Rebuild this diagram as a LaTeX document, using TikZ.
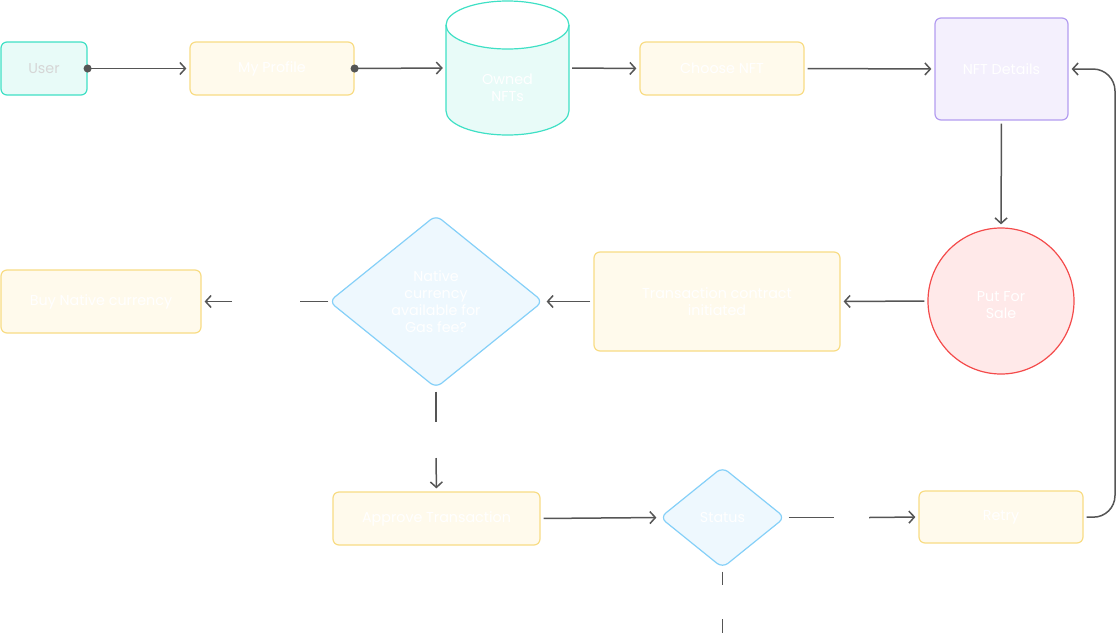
\documentclass[tikz,border=0pt]{standalone}
\usepackage{fontspec}
\setmainfont{Poppins}
\usetikzlibrary{arrows.meta,shapes.geometric}
\definecolor{lineC}{HTML}{555555}
\definecolor{cyanF}{HTML}{E8FBF8}
\definecolor{cyanD}{HTML}{3FE0C5}
\definecolor{yelF}{HTML}{FFFAEC}
\definecolor{yelD}{HTML}{F8DC84}
\definecolor{purF}{HTML}{F4F0FD}
\definecolor{purD}{HTML}{B39CF0}
\definecolor{redF}{HTML}{FFE9E9}
\definecolor{redD}{HTML}{F44B4B}
\definecolor{bluF}{HTML}{EEF8FE}
\definecolor{bluD}{HTML}{85D0F8}
\definecolor{userT}{HTML}{D6D6D6}
\tikzset{
  txt/.style={font=\fontsize{14.3}{17}\selectfont, text=white, align=center},
  box/.style={draw, line width=1.2pt, rounded corners=6pt, txt, inner sep=0pt},
  yelbox/.style={box, fill=yelF, draw=yelD},
  dia/.style={diamond, draw=bluD, fill=bluF, line width=1.2pt, rounded corners=7pt,
    txt, inner sep=0pt},
  arr/.style={draw=lineC, line width=1.5pt, -{Straight Barb[length=5.5pt,width=12pt,line width=1.5pt]}, shorten >=3pt},
  ln/.style={draw=lineC, line width=1.5pt},
  dotarr/.style={draw=lineC, line width=1.5pt, {Circle[length=8pt,width=8pt]}-{Straight Barb[length=5.5pt,width=12pt,line width=1.5pt]}, shorten >=3pt, shorten <=-4pt},
}
\begin{document}
\begin{tikzpicture}[x=1pt,y=-1pt]
\useasboundingbox (0,0) rectangle (1117,633);
% nodes
\node[box, fill=cyanF, draw=cyanD, text=userT, minimum width=86, minimum height=53] (user) at (44,68.5) {User};
\node[yelbox, minimum width=164, minimum height=53] (profile) at (272,68.5) {My Profile};
% cylinder
\fill[cyanF] (446,25) -- (446,111) arc (180:0:61.5 and 24) -- (569,25) arc (0:180:61.5 and 24) -- cycle;
\draw[cyanD, line width=1.2pt] (446,25) -- (446,111) arc (180:0:61.5 and 24) -- (569,25);
\draw[cyanD, line width=1.2pt] (507.5,25) ellipse (61.5 and 24);
\node[minimum width=123, minimum height=134, inner sep=0pt,
  label={[txt, yshift=-20pt]center:{Owned\\NFTs}}] (owned) at (507.5,68) {};
\node[yelbox, minimum width=164, minimum height=53] (choose) at (722,68.5) {Choose NFT};
\node[box, fill=purF, draw=purD, minimum width=133, minimum height=102] (details) at (1001.5,69) {NFT Details};
\node[circle, draw=redD, fill=redF, line width=1.2pt, minimum size=146, inner sep=0pt,
  label={[txt, yshift=-4pt]center:{Put For\\Sale}}] (sale) at (1001,301) {};
\node[yelbox, minimum width=246, minimum height=99] (trans) at (717,301.5) {Transaction contract\\initiated};
\node[dia, minimum width=214, minimum height=173, aspect=1.237] (native) at (436,301.5) {Native\\currency\\available for\\Gas fee?};
\node[yelbox, minimum width=200, minimum height=63] (buy) at (101,301.5) {Buy Native currency};
\node[yelbox, minimum width=207, minimum height=53] (approve) at (436.5,518.5) {Approve Transaction};
\node[dia, minimum width=125, minimum height=101, aspect=1.237] (status) at (722.5,517.5) {Status};
\node[yelbox, minimum width=164, minimum height=52] (retry) at (1001,517) {Retry};
% coordinates
\coordinate (g1a) at (300,301.5);
\coordinate (g1b) at (232,301.5);
\coordinate (g2a) at (436,422);
\coordinate (g2b) at (436,458);
\coordinate (g3a) at (834,517.5);
\coordinate (g3b) at (869,517.5);
\coordinate (g4a) at (722.5,585);
\coordinate (g4b) at (722.5,619);
\coordinate (g4c) at (722.5,633);
\coordinate (lb) at (1115,517.5);
\coordinate (lt) at (1115,69);
% connectors
\draw[dotarr] (user.east) -- (profile.west);
\draw[dotarr] (profile.east) -- (owned.west);
\draw[arr, shorten <=3pt] (owned.east) -- (choose.west);
\draw[arr, shorten <=3pt] (choose.east) -- (details.west);
\draw[arr, shorten <=3pt] (details.south) -- (sale.north);
\draw[arr, shorten <=3pt] (sale.west) -- (trans.east);
\draw[arr, shorten <=3pt] (trans.west) -- (native.east);
\draw[ln] (native.west) -- (g1a);
\draw[arr] (g1b) -- (buy.east);
\draw[ln, shorten <=3pt] (native.south) -- (g2a);
\draw[arr] (g2b) -- (approve.north);
\draw[arr, shorten <=3pt] (approve.east) -- (status.west);
\draw[ln, shorten <=3pt] (status.east) -- (g3a);
\draw[arr] (g3b) -- (retry.west);
\draw[ln, shorten <=3pt] (status.south) -- (g4a);
\draw[ln] (g4b) -- (g4c);
\draw[arr, shorten <=3pt, rounded corners=22pt] (retry.east) -- (lb) -- (lt) -- (details.east);
\end{tikzpicture}
\end{document}
